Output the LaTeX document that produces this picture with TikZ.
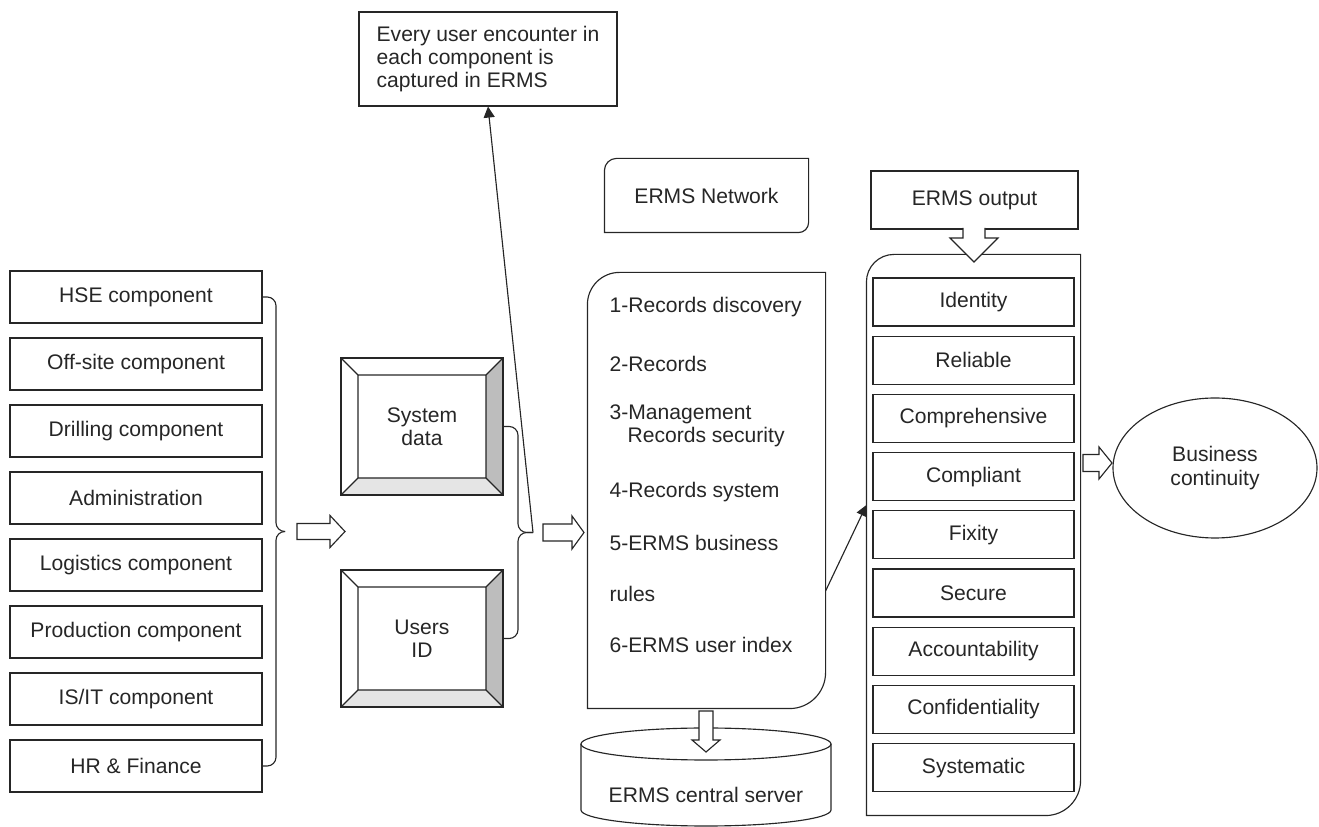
\documentclass[tikz,border=0pt]{standalone}
\usepackage{fontspec}
\setmainfont{Liberation Sans}
\usetikzlibrary{arrows.meta,shapes.geometric}

\tikzset{
  compbox/.style={draw, minimum width=5.04cm, minimum height=1.04cm, inner sep=0pt},
  qualbox/.style={draw, minimum width=4.02cm, minimum height=0.96cm, inner sep=0pt},
  recline/.style={anchor=base west, inner sep=0pt},
  fatarrow/.style={draw, fill=white, line join=miter},
  bevelbox/.style={draw, minimum width=3.24cm, minimum height=2.74cm, align=center,
    path picture={
      \coordinate (oNW) at (path picture bounding box.north west);
      \coordinate (oNE) at (path picture bounding box.north east);
      \coordinate (oSE) at (path picture bounding box.south east);
      \coordinate (oSW) at (path picture bounding box.south west);
      \coordinate (iNW) at ([shift={(0.34,-0.34)}]oNW);
      \coordinate (iNE) at ([shift={(-0.34,-0.34)}]oNE);
      \coordinate (iSE) at ([shift={(-0.34,0.34)}]oSE);
      \coordinate (iSW) at ([shift={(0.34,0.34)}]oSW);
      \fill[black!26] (oNE) -- (oSE) -- (iSE) -- (iNE) -- cycle;
      \fill[black!10] (oSW) -- (oSE) -- (iSE) -- (iSW) -- cycle;
      \draw (iNW) rectangle (iSE) (oNW) -- (iNW) (oNE) -- (iNE) (oSE) -- (iSE) (oSW) -- (iSW);
    }}
}

\begin{document}
\begin{tikzpicture}[>={Triangle[length=2.2mm,width=2.2mm]},line width=0.65pt,color=black!85,font=\fontsize{12}{13.3}\selectfont]
\useasboundingbox (0,0) rectangle (26.38,16.54);
% components
\node[compbox] (hse) at (2.72,10.6) {HSE component};
\node[compbox] (offsite) at (2.72,9.26) {Off-site component};
\node[compbox] (drilling) at (2.72,7.92) {Drilling component};
\node[compbox] (admin) at (2.72,6.58) {Administration};
\node[compbox] (logistics) at (2.72,5.24) {Logistics component};
\node[compbox] (production) at (2.72,3.9) {Production component};
\node[compbox] (isit) at (2.72,2.56) {IS/IT component};
\node[compbox] (hrfin) at (2.72,1.22) {HR \& Finance};
\coordinate (ltip) at (5.7,5.91);
\draw[rounded corners=5pt] (hse.east) -- (5.52,10.6) -- (5.52,5.91) -- (ltip);
\draw[rounded corners=5pt] (hrfin.east) -- (5.52,1.22) -- (5.52,5.91) -- (ltip);
\draw[fatarrow] (5.94,6.07) -- (6.6,6.07) -- (6.6,6.23) -- (6.9,5.91) -- (6.6,5.59) -- (6.6,5.75) -- (5.94,5.75) -- cycle;
% system data and users
\node[bevelbox] (sysdata) at (8.44,8.01) {System\\data};
\node[bevelbox] (users) at (8.44,3.77) {Users\\ID};
\coordinate (rtip) at (10.66,5.89);
\draw[rounded corners=5pt] (sysdata.east) -- (10.36,8.01) -- (10.36,5.89) -- (rtip);
\draw[rounded corners=5pt] (users.east) -- (10.36,3.77) -- (10.36,5.89) -- (rtip);
\draw[fatarrow] (10.86,6.06) -- (11.44,6.06) -- (11.44,6.22) -- (11.68,5.89) -- (11.44,5.56) -- (11.44,5.72) -- (10.86,5.72) -- cycle;
% note
\node[draw, align=left, minimum width=5.16cm, minimum height=1.88cm] (note) at (9.76,15.36) {Every user encounter in\\each component is\\captured in ERMS};
\draw[->] (rtip) -- (note.south);
% network
\node[minimum width=4.06cm, minimum height=1.46cm] (network) at (14.13,12.63) {ERMS Network};
\draw (network.south west) -- ([yshift=-0.24cm]network.north west) arc[start angle=180,end angle=90,radius=0.24cm] -- (network.north east) -- ([yshift=0.2cm]network.south east) arc[start angle=0,end angle=-90,radius=0.2cm] -- cycle;
% records
\node[minimum width=4.74cm, minimum height=8.7cm] (records) at (14.13,6.73) {};
\draw (records.south west) -- ([yshift=-0.64cm]records.north west) arc[start angle=180,end angle=90,radius=0.64cm] -- (records.north east) -- ([yshift=0.72cm]records.south east) arc[start angle=0,end angle=-90,radius=0.72cm] -- cycle;
\node[recline] (r1) at (12.18,10.29) {1-Records discovery};
\node[recline] (r2) at (12.18,9.11) {2-Records};
\node[recline] (r3) at (12.18,8.15) {3-Management};
\node[recline] (r3b) at (12.54,7.69) {Records security};
\node[recline] (r4) at (12.18,6.59) {4-Records system};
\node[recline] (r5) at (12.18,5.53) {5-ERMS business};
\node[recline] (r6) at (12.18,4.51) {rules};
\node[recline] (r7) at (12.18,3.49) {6-ERMS user index};
% server
\draw (11.62,1.66) -- (11.62,0.34) arc[start angle=180,end angle=360,x radius=2.5cm,y radius=0.32cm] -- (16.62,1.66);
\draw (14.12,1.66) ellipse [x radius=2.5cm,y radius=0.32cm];
\node (server) at (14.12,0.64) {ERMS central server};
\draw[fatarrow] (13.98,2.32) -- (13.98,1.74) -- (13.84,1.74) -- (14.12,1.5) -- (14.4,1.74) -- (14.26,1.74) -- (14.26,2.32) -- cycle;
% output
\node[draw, minimum width=4.14cm, minimum height=1.16cm] (outlabel) at (19.49,12.54) {ERMS output};
\node[minimum width=4.26cm, minimum height=11.2cm] (output) at (19.47,5.84) {};
\draw (output.south west) -- ([yshift=-0.55cm]output.north west) arc[start angle=180,end angle=90,radius=0.55cm] -- (output.north east) -- ([yshift=0.7cm]output.south east) arc[start angle=0,end angle=-90,radius=0.7cm] -- cycle;
\draw[fatarrow] (19.26,11.98) -- (19.26,11.78) -- (19.0,11.78) -- (19.48,11.3) -- (19.96,11.78) -- (19.7,11.78) -- (19.7,11.98);
\node[qualbox] (identity) at (19.47,10.5) {Identity};
\node[qualbox] (reliable) at (19.47,9.336) {Reliable};
\node[qualbox] (comprehensive) at (19.47,8.172) {Comprehensive};
\node[qualbox] (compliant) at (19.47,7.008) {Compliant};
\node[qualbox] (fixity) at (19.47,5.844) {Fixity};
\node[qualbox] (secure) at (19.47,4.68) {Secure};
\node[qualbox] (accountability) at (19.47,3.516) {Accountability};
\node[qualbox] (confidentiality) at (19.47,2.352) {Confidentiality};
\node[qualbox] (systematic) at (19.47,1.188) {Systematic};
\draw[->] ([yshift=-2.01cm]records.east) -- ([yshift=0.6cm]output.west);
% continuity
\draw[fatarrow] (21.66,7.45) -- (21.98,7.45) -- (21.98,7.6) -- (22.24,7.28) -- (21.98,6.96) -- (21.98,7.11) -- (21.66,7.11) -- cycle;
\node[ellipse, draw, minimum width=4.08cm, minimum height=2.8cm, inner sep=0pt, align=center] (continuity) at (24.3,7.18) {Business\\continuity};
\end{tikzpicture}
\end{document}
